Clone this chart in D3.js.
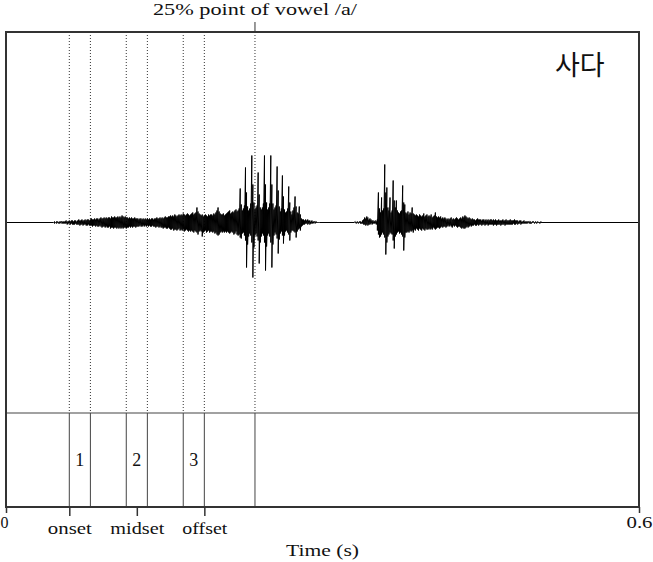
<!DOCTYPE html>
<html><head><meta charset="utf-8">
<script src="https://cdn.jsdelivr.net/npm/d3@7"></script>
<style>html,body{margin:0;padding:0;background:#fff;} svg{display:block;}</style>
</head><body><svg id="chart" width="653" height="562"></svg>
<script>
// ---- data ----
const boundaryTimes = [0.060, 0.080, 0.114, 0.134, 0.168, 0.188, 0.236];
const intervalLabels = ["1", "2", "3"];
const intervalStarts = [0.060, 0.114, 0.168];
const intervalEnds   = [0.080, 0.134, 0.188];
const namedTickTimes  = [0.060, 0.124, 0.188];
const namedTickLabels = ["onset", "midset", "offset"];
const numericTicks = [0, 0.6];
const markerTime = 0.236;
const markerLabel = "25% point of vowel /a/";
const wordLabel = "사다";
const axisTitle = "Time (s)";
const timeDomain = [0, 0.6];
const ampDomain = [-190.5, 190.5];

// waveform envelope, one column per 1 ms (max / min per column)
const waveStep = 0.001;
const waveAStart = 0.045;
const waveAHi = [0,1,0,1,1,0,1,1,1,1, 1,1,2,1,1,2,1,2,2,1, 2,2,1,2,3,2,2,3,2,2, 3,2,3,3,2,3,4,3,3,4,
  3,4,4,3,4,5,4,4,5,4, 5,4,5,5,4,6,5,5,6,5, 5,6,5,6,5,7,6,5,6,5, 5,4,5,4,5,4,4,5,4,4,
  4,3,4,4,3,4,3,4,3,4, 3,4,3,4,4,3,4,4,5,4, 4,5,4,5,4,5,6,5,5,6, 6,7,6,7,6,8,7,6,7,8,
  7,8,7,9,8,7,8,9,8,7, 8,9,10,8,9,10,15,11,9,8, 7,8,6,7,8,7,6,8,7,8, 8,7,9,8,10,12,15,11,9,8,
  8,9,7,8,9,10,11,12,9,10, 11,10,12,13,11,12,14,
  34,18,12,14,17,55,30,16,12,14, 19,67,38,20,13,15,17,50,28,15, 13,15,19,67,38,20,13,15,19,67,
  38,19,13,15,17,56,32,16,11,14, 47,26,13,10,11,14,36,20,11,8, 12,15,26,16,10,9,16,8,4,3,
  3,2,3,2,3,2,2,1,2,1, 1,1,1,0,0,0];
const waveALo = [0,-1,0,-1,0,-1,-1,0,-1,-1, -1,-1,-1,-2,-1,-1,-2,-1,-2,-2, -2,-1,-2,-2,-2,-3,-2,-2,-3,-2,
  -2,-3,-3,-2,-3,-3,-3,-4,-3,-3, -4,-3,-4,-4,-3,-4,-5,-4,-4,-5, -4,-5,-5,-4,-6,-5,-5,-6,-5,-5,
  -6,-5,-6,-5,-6,-5,-6,-5,-5,-6, -5,-5,-4,-5,-4,-5,-4,-4,-5,-4, -4,-4,-3,-4,-4,-3,-4,-3,-4,-3,
  -4,-3,-4,-4,-3,-4,-4,-5,-4,-4, -5,-4,-5,-5,-6,-5,-5,-6,-6,-5, -6,-7,-7,-6,-8,-7,-7,-8,-7,-6,
  -8,-7,-8,-7,-9,-8,-7,-8,-9,-8, -9,-8,-9,-10,-8,-9,-10,-12,-9,-8, -9,-14,-10,-9,-8,-10,-9,-8,-10,-9,
  -9,-10,-9,-11,-10,-12,-13,-12,-10,-9, -10,-9,-10,-9,-10,-9,-10,-11,-10,-9, -10,-12,-11,-9,-12,-13,-12,
  -15,-16,-11,-10,-13,-18,-45,-22,-14,-11, -13,-20,-55,-25,-13,-11,-14,-18,-41,-20, -14,-11,-13,-20,-48,-24,-13,-11,-14,-20,
  -45,-22,-13,-10,-12,-16,-31,-17,-11,-9, -13,-21,-13,-9,-8,-10,-12,-18,-10,-8, -8,-9,-10,-15,-9,-7,-6,-8,-4,-3,
  -2,-2,-1,-1,-2,-1,-2,-1,-1,-1, 0,-1,0,0,0,0];
const waveBStart = 0.330;
const waveBHi = [0,1,0,1,0,1,1,0,2,3, 5,4,6,5,3,4,3,2,2,1, 2,1,3,30,14,10,25,12,14,58,
  30,35,15,12,25,10,12,42,22,15, 22,12,10,9,11,12,37,20,18,10, 9,11,8,10,9,15,9,8,7,8,
  7,6,8,7,6,7,9,6,7,8, 6,7,6,8,5,6,7,10,6,5, 6,5,6,4,5,4,5,4,3,4,
  3,4,5,3,4,3,4,5,4,3, 4,5,4,6,5,7,6,5,4,5, 4,3,4,3,3,2,3,4,3,3,
  3,2,3,3,2,3,2,3,2,3, 3,2,3,2,3,2,2,3,2,2, 2,3,2,2,3,2,2,2,3,2,
  2,2,3,2,2,2,1,2,2,1, 1,2,1,1,1,1,1,1,0,1, 1,0,1,0,1,0,0,1,0,0];
const waveBLo = [0,0,-1,0,-1,0,-1,-1,-1,-2, -2,-3,-2,-3,-2,-2,-1,-2,-1,-1, -1,-2,-8,-12,-15,-14,-12,-10,-12,-15,
  -32,-20,-14,-12,-10,-11,-12,-18,-26,-14, -12,-10,-9,-11,-10,-12,-14,-28,-15,-10, -10,-9,-10,-8,-9,-8,-10,-7,-8,-6,
  -7,-8,-6,-7,-8,-6,-7,-8,-6,-7, -7,-6,-7,-6,-7,-5,-6,-7,-6,-5, -5,-6,-5,-4,-5,-4,-4,-5,-4,-3,
  -4,-3,-4,-5,-3,-4,-3,-4,-5,-4, -4,-5,-6,-5,-6,-6,-5,-4,-5,-4, -3,-4,-3,-3,-2,-3,-3,-2,-3,-2,
  -2,-3,-2,-2,-3,-2,-2,-3,-2,-2, -2,-2,-3,-2,-2,-3,-2,-2,-2,-3, -2,-2,-2,-3,-2,-2,-2,-2,-2,-2,
  -2,-1,-2,-2,-1,-2,-1,-1,-2,-1, -1,-1,-1,-1,-1,0,-1,-1,-1,0, 0,-1,0,-1,0,0,-1,0,0,0];

// ---- layout ----
const plotL = 6, plotR = 639, plotT = 32, tierT = 413, plotB = 507;
const serif = "'Liberation Serif', 'Times New Roman', serif";
const ink = "#333";

const svg = d3.select("#chart");
const x = d3.scaleLinear().domain(timeDomain).range([plotL, plotR]);
const y = d3.scaleLinear().domain(ampDomain).range([tierT, plotT]);

// waveform points (zig-zag through column max/min)
const pts = [[timeDomain[0], 0]];
function addSeg(start, hi, lo) {
  hi.forEach((h, i) => {
    const t = start + i * waveStep;
    pts.push([t, h]); pts.push([t, lo[i]]);
  });
}
addSeg(waveAStart, waveAHi, waveALo);
addSeg(waveBStart, waveBHi, waveBLo);
pts.push([timeDomain[1], 0]);

svg.append("clipPath").attr("id", "wclip").append("rect")
  .attr("x", plotL).attr("y", plotT).attr("width", plotR - plotL).attr("height", tierT - plotT);

// dotted boundary lines in waveform panel
svg.append("g").selectAll("line").data(boundaryTimes).join("line")
  .attr("x1", d => x(d)).attr("x2", d => x(d))
  .attr("y1", plotT).attr("y2", tierT)
  .attr("stroke", ink).attr("stroke-width", 1).attr("stroke-dasharray", "1,2");

svg.append("path").datum(pts)
  .attr("clip-path", "url(#wclip)")
  .attr("d", d3.line().x(d => x(d[0])).y(d => y(d[1])))
  .attr("fill", "none").attr("stroke", "#000").attr("stroke-width", 1);

// tier boundaries
svg.append("g").selectAll("line").data(boundaryTimes).join("line")
  .attr("x1", d => x(d)).attr("x2", d => x(d))
  .attr("y1", tierT).attr("y2", plotB)
  .attr("stroke", "#444").attr("stroke-width", 1);

// tier divider
svg.append("line").attr("x1", plotL).attr("x2", plotR).attr("y1", tierT).attr("y2", tierT)
  .attr("stroke", "#444").attr("stroke-width", 1.2);

// interval labels
svg.append("g").selectAll("text").data(intervalLabels).join("text")
  .attr("x", (d, i) => x((intervalStarts[i] + intervalEnds[i]) / 2))
  .attr("y", 466).attr("text-anchor", "middle")
  .attr("font-family", serif).attr("font-size", 18).attr("fill", "#111").text(d => d);

// frame
svg.append("rect").attr("x", plotL).attr("y", plotT).attr("width", plotR - plotL).attr("height", plotB - plotT)
  .attr("fill", "none").attr("stroke", ink).attr("stroke-width", 2);

// marker tick above frame + label
svg.append("line").attr("x1", x(markerTime)).attr("x2", x(markerTime)).attr("y1", 22).attr("y2", plotT)
  .attr("stroke", ink).attr("stroke-width", 1);
svg.append("text").attr("x", x(markerTime)).attr("y", 15).attr("text-anchor", "middle")
  .attr("font-family", serif).attr("font-size", 17).attr("fill", "#111")
  .attr("textLength", 204).attr("lengthAdjust", "spacingAndGlyphs").text(markerLabel);

// word label
svg.append("text").attr("x", 555).attr("y", 75)
  .attr("font-family", "'Noto Sans CJK KR', sans-serif").attr("font-size", 27).attr("fill", "#111")
  .text(wordLabel);

// axes
const numAxis = svg.append("g").attr("transform", `translate(0,${plotB})`)
  .call(d3.axisBottom(x).tickValues(numericTicks).tickSize(6).tickFormat(d => d === 0 ? "0" : d3.format(".1f")(d)));
numAxis.select(".domain").remove();
numAxis.selectAll(".tick line").attr("stroke", ink).attr("stroke-width", 1.5);
numAxis.selectAll(".tick text").attr("dy", null).attr("y", 21)
  .attr("font-family", serif).attr("font-size", 17).attr("fill", "#111")
  .attr("textLength", (d, i) => i === 0 ? 8 : 26).attr("lengthAdjust", "spacingAndGlyphs")
  .attr("dx", (d, i) => i === 0 ? -2 : 0);

const nameWidths = [44, 54, 45];
const nameAxis = svg.append("g").attr("transform", `translate(0,${plotB})`)
  .call(d3.axisBottom(x).tickValues(namedTickTimes).tickSize(9).tickFormat((d, i) => namedTickLabels[i]));
nameAxis.select(".domain").remove();
nameAxis.selectAll(".tick line").attr("stroke", ink).attr("stroke-width", 1.5);
nameAxis.selectAll(".tick text").attr("dy", null).attr("y", 27)
  .attr("font-family", serif).attr("font-size", 17).attr("fill", "#111")
  .attr("textLength", (d, i) => nameWidths[i]).attr("lengthAdjust", "spacingAndGlyphs");

svg.append("text").attr("x", (plotL + plotR) / 2).attr("y", 556).attr("text-anchor", "middle")
  .attr("font-family", serif).attr("font-size", 17).attr("fill", "#111")
  .attr("textLength", 73).attr("lengthAdjust", "spacingAndGlyphs").text(axisTitle);
</script></body></html>
